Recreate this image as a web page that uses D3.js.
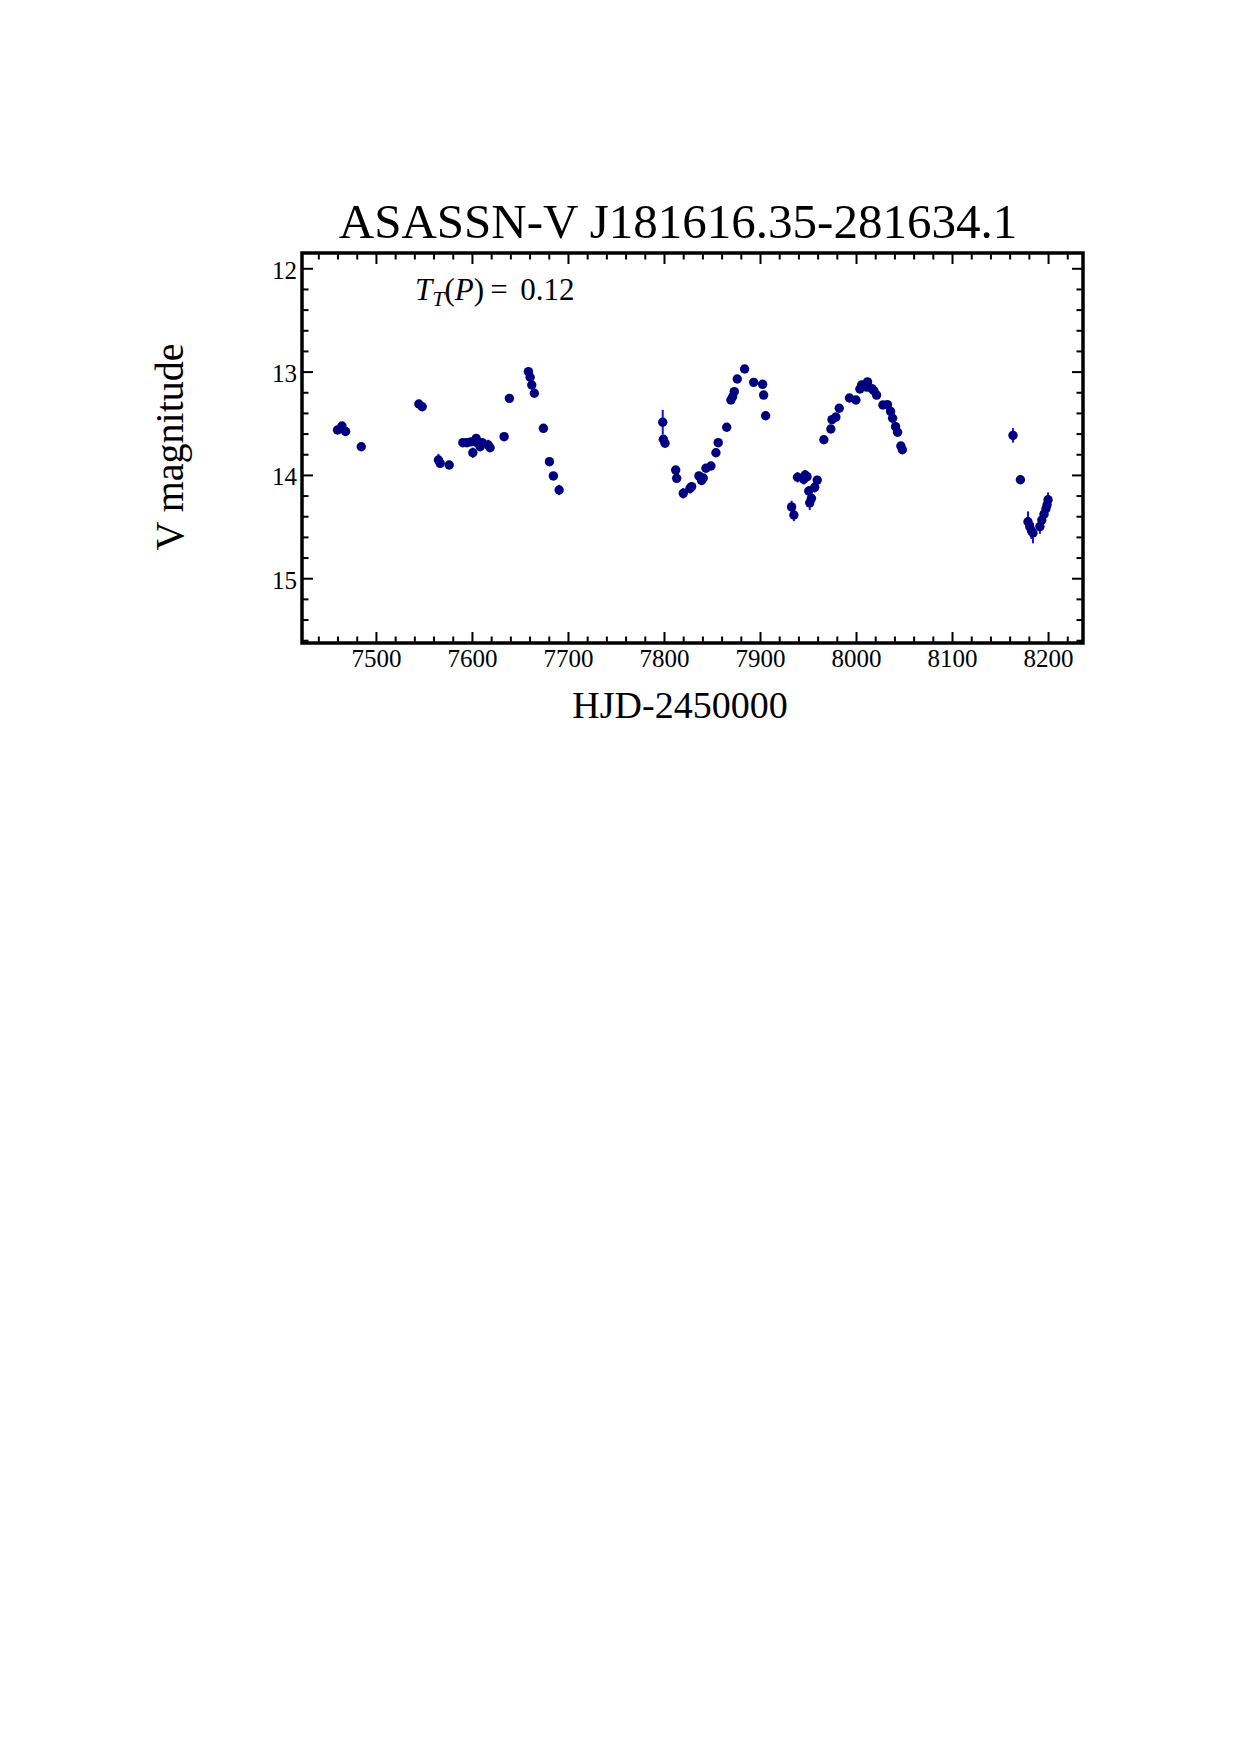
<!DOCTYPE html>
<html>
<head>
<meta charset="utf-8">
<script src="https://cdn.jsdelivr.net/npm/d3@7"></script>
<style>
  body { margin: 0; background: #fff; }
  svg text { font-family: "Liberation Serif", "Times New Roman", serif; }
</style>
</head>
<body>
<div id="wrapper"></div>
<script>
// light curve
const hjd = [
  7460.0, 7464.6, 7468.4, 7484.7, 7544.7, 7548.2, 7565.1, 7566.9, 7576.3, 7590.5,
  7594.7, 7598.9, 7600.9, 7604.4, 7606.1, 7608.5, 7610.6, 7616.9, 7618.9, 7633.5,
  7639.0, 7658.8, 7660.6, 7662.3, 7665.0, 7674.4, 7680.7, 7684.8, 7690.8, 7798.7,
  7799.3, 7801.1, 7812.2, 7813.2, 7820.1, 7827.1, 7828.8, 7836.4, 7839.2, 7840.9,
  7843.7, 7848.9, 7854.1, 7856.5, 7865.3, 7869.7, 7871.5, 7873.2, 7876.3, 7884.0,
  7893.4, 7902.7, 7903.8, 7905.9, 7932.9, 7935.3, 7939.1, 7945.6, 7947.0, 7949.0,
  7950.8, 7951.8, 7953.6, 7957.0, 7959.6, 7966.5, 7973.8, 7975.0, 7979.0, 7982.5,
  7993.2, 7999.9, 8004.0, 8005.8, 8011.0, 8012.0, 8016.5, 8018.6, 8021.4, 8028.0,
  8032.7, 8036.0, 8038.1, 8041.2, 8043.3, 8046.7, 8048.3, 8163.5, 8171.2, 8179.1,
  8180.9, 8182.7, 8184.3, 8191.5, 8193.5, 8195.8, 8197.8, 8199.0, 8200.0
]
const vmag = [
  13.565, 13.527, 13.580, 13.727, 13.314, 13.340, 13.856, 13.888, 13.904, 13.688,
  13.688, 13.680, 13.785, 13.646, 13.694, 13.727, 13.688, 13.710, 13.737, 13.630,
  13.259, 13.000, 13.055, 13.130, 13.210, 13.549, 13.872, 14.010, 14.146, 13.490,
  13.655, 13.694, 13.953, 14.033, 14.178, 14.130, 14.114, 14.010, 14.054, 14.030,
  13.936, 13.914, 13.785, 13.688, 13.539, 13.275, 13.243, 13.194, 13.072, 12.975,
  13.104, 13.123, 13.227, 13.427, 14.310, 14.388, 14.023, 14.043, 14.001, 14.017,
  14.156, 14.270, 14.227, 14.120, 14.050, 13.660, 13.556, 13.465, 13.440, 13.355,
  13.256, 13.275, 13.168, 13.130, 13.150, 13.100, 13.165, 13.185, 13.227, 13.323,
  13.320, 13.385, 13.452, 13.533, 13.587, 13.720, 13.756, 13.617, 14.047, 14.453,
  14.500, 14.540, 14.562, 14.500, 14.437, 14.380, 14.328, 14.290, 14.240
]
const verr = [
  0.02, 0.02, 0.02, 0.02, 0.02, 0.02, 0.06, 0.04, 0.04, 0.03,
  0.03, 0.03, 0.05, 0.03, 0.04, 0.04, 0.03, 0.05, 0.03, 0.02,
  0.02, 0.02, 0.02, 0.02, 0.02, 0.02, 0.03, 0.03, 0.05, 0.12,
  0.04, 0.03, 0.04, 0.03, 0.05, 0.05, 0.04, 0.04, 0.04, 0.03,
  0.03, 0.03, 0.03, 0.03, 0.02, 0.02, 0.02, 0.02, 0.02, 0.02,
  0.02, 0.02, 0.02, 0.02, 0.06, 0.06, 0.05, 0.05, 0.05, 0.04,
  0.05, 0.07, 0.05, 0.05, 0.04, 0.02, 0.02, 0.02, 0.02, 0.02,
  0.02, 0.03, 0.02, 0.02, 0.02, 0.02, 0.02, 0.02, 0.02, 0.02,
  0.02, 0.02, 0.02, 0.02, 0.02, 0.03, 0.02, 0.07, 0.04, 0.10,
  0.08, 0.08, 0.10, 0.07, 0.07, 0.06, 0.06, 0.06, 0.07
]

const xTicks = [7500, 7600, 7700, 7800, 7900, 8000, 8100, 8200]
const yTicks = [12, 13, 14, 15]
const xMinorTicks = d3.range(7440, 8221, 20).filter(d => d % 100 !== 0)
const yMinorTicks = d3.range(12.2, 15.61, 0.2).filter(d => Math.abs(d - Math.round(d)) > 0.01)

const titleText = "ASASSN-V J181616.35-281634.1"
const xLabelText = "HJD-2450000"
const yLabelText = "V magnitude"
const statValue = "0.12"

function drawChart() {
  const dataset = hjd.map((d, i) => ({ hjd: d, mag: vmag[i], err: verr[i] }))
  const xAccessor = d => d.hjd
  const yAccessor = d => d.mag

  let dimensions = {
    width: 1240,
    height: 1755,
    margin: { top: 253, left: 302 },
    boundedWidth: 781,
    boundedHeight: 390,
  }

  const wrapper = d3.select("#wrapper")
    .append("svg")
    .attr("width", dimensions.width)
    .attr("height", dimensions.height)

  const bounds = wrapper.append("g")
    .attr("transform", `translate(${dimensions.margin.left}, ${dimensions.margin.top})`)

  const xScaler = d3.scaleLinear()
    .domain([7423, 8236.4])
    .range([0, dimensions.boundedWidth])

  // magnitudes: bright at the top
  const yScaler = d3.scaleLinear()
    .domain([11.852, 15.627])
    .range([0, dimensions.boundedHeight])

  // error bars then points
  bounds.append("g")
    .selectAll("line")
    .data(dataset)
    .join("line")
    .attr("x1", d => xScaler(xAccessor(d)))
    .attr("x2", d => xScaler(xAccessor(d)))
    .attr("y1", d => yScaler(yAccessor(d) - d.err))
    .attr("y2", d => yScaler(yAccessor(d) + d.err))
    .attr("stroke", "#1010e8")
    .attr("stroke-width", 2)

  bounds.append("g")
    .selectAll("circle")
    .data(dataset)
    .join("circle")
    .attr("cx", d => xScaler(xAccessor(d)))
    .attr("cy", d => yScaler(yAccessor(d)))
    .attr("r", 4.7)
    .attr("fill", "#00007f")

  // ticks on all four sides, pointing in
  const major = 11, minor = 6.5
  const styleAxis = g => {
    g.select(".domain").remove()
    g.selectAll(".tick line").attr("stroke", "#000").attr("stroke-width", 2)
    g.selectAll("text").attr("fill", "#000").attr("font-size", 25)
      .attr("font-family", "'Liberation Serif', 'Times New Roman', serif")
  }

  const xAxis = bounds.append("g")
    .attr("transform", `translate(0, ${dimensions.boundedHeight})`)
    .call(d3.axisBottom(xScaler).tickValues(xTicks).tickSize(-major).tickPadding(6).tickFormat(d3.format("d")))
    .call(styleAxis)
  bounds.append("g")
    .attr("transform", `translate(0, ${dimensions.boundedHeight})`)
    .call(d3.axisBottom(xScaler).tickValues(xMinorTicks).tickSize(-minor).tickFormat(""))
    .call(styleAxis)
  bounds.append("g")
    .call(d3.axisTop(xScaler).tickValues(xTicks).tickSize(-major).tickFormat(""))
    .call(styleAxis)
  bounds.append("g")
    .call(d3.axisTop(xScaler).tickValues(xMinorTicks).tickSize(-minor).tickFormat(""))
    .call(styleAxis)

  const yAxis = bounds.append("g")
    .call(d3.axisLeft(yScaler).tickValues(yTicks).tickSize(-major).tickPadding(5).tickFormat(d3.format("d")))
    .call(styleAxis)
  yAxis.selectAll("text").attr("dy", "0.4em")
  bounds.append("g")
    .call(d3.axisLeft(yScaler).tickValues(yMinorTicks).tickSize(-minor).tickFormat(""))
    .call(styleAxis)
  bounds.append("g")
    .attr("transform", `translate(${dimensions.boundedWidth}, 0)`)
    .call(d3.axisRight(yScaler).tickValues(yTicks).tickSize(-major).tickFormat(""))
    .call(styleAxis)
  bounds.append("g")
    .attr("transform", `translate(${dimensions.boundedWidth}, 0)`)
    .call(d3.axisRight(yScaler).tickValues(yMinorTicks).tickSize(-minor).tickFormat(""))
    .call(styleAxis)

  // frame
  bounds.append("rect")
    .attr("width", dimensions.boundedWidth)
    .attr("height", dimensions.boundedHeight)
    .attr("fill", "none")
    .attr("stroke", "#000")
    .attr("stroke-width", 3.5)

  // labels
  wrapper.append("text")
    .attr("x", 678)
    .attr("y", 238)
    .attr("text-anchor", "middle")
    .attr("font-size", 49)
    .text(titleText)

  wrapper.append("text")
    .attr("x", 680)
    .attr("y", 718)
    .attr("text-anchor", "middle")
    .attr("font-size", 38)
    .text(xLabelText)

  wrapper.append("text")
    .attr("transform", `translate(183, 447) rotate(-90)`)
    .attr("text-anchor", "middle")
    .attr("font-size", 40)
    .text(yLabelText)

  const stat = wrapper.append("text")
    .attr("x", 415)
    .attr("y", 300)
    .attr("font-size", 31)
  stat.append("tspan").attr("font-style", "italic").text("T")
  stat.append("tspan").attr("font-style", "italic").attr("font-size", 22).attr("dy", 6).text("T")
  stat.append("tspan").attr("dy", -6).text("(")
  stat.append("tspan").attr("font-style", "italic").text("P")
  stat.append("tspan").text(")\u2009=\u2009\u20090.12".replace("0.12", statValue))
}

drawChart()
</script>
</body>
</html>
